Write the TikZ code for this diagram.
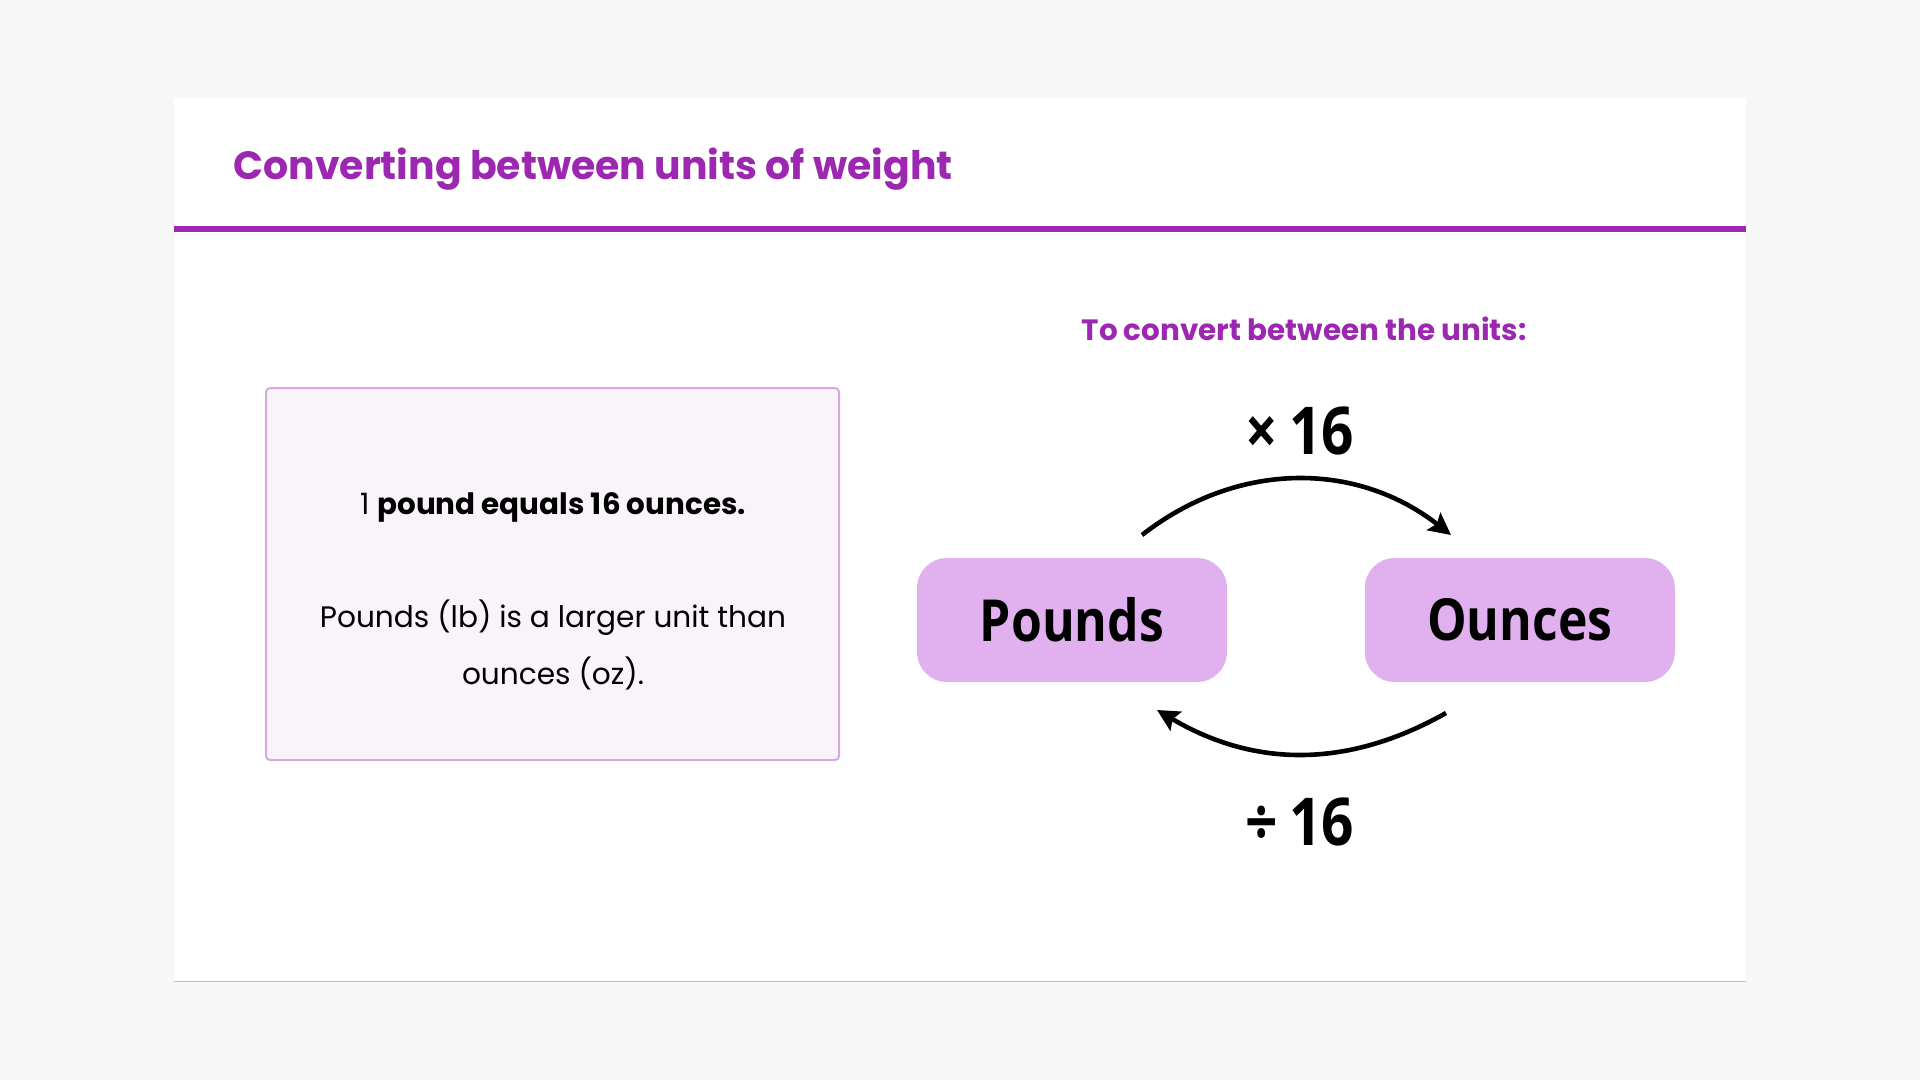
\documentclass[tikz,border=0pt]{standalone}
\usepackage{fontspec}
\setmainfont{Poppins}
\newfontfamily\labelfont[FakeStretch=0.86]{Open Sans}
\usetikzlibrary{arrows.meta,positioning}
\definecolor{titlepurple}{HTML}{9C27B0}
\definecolor{unitfill}{HTML}{E1B0EF}
\definecolor{notefill}{HTML}{F9F3FA}
\definecolor{noteline}{HTML}{D9A8E2}
\definecolor{pagegray}{HTML}{F7F7F7}

\begin{document}
\begin{tikzpicture}[x=0.5pt,y=-0.5pt,
    unit/.style={fill=unitfill,rounded corners=15pt,minimum width=155pt,minimum height=62pt,
      inner sep=0pt,font=\labelfont\bfseries\fontsize{29}{32}\selectfont},
    factor/.style={font=\labelfont\bfseries\fontsize{33}{36}\selectfont},
    turn/.style={line width=2.3pt,-{Stealth[length=11pt,width=11pt,inset=2pt]}}]
      \fill [pagegray] (0,0) rectangle (1920,1080);
      \fill [black!25] (174,100) rectangle (1746,982);
      \fill [white] (174,98) rectangle (1746,981);
      \fill [titlepurple] (174,226) rectangle (1746,232);

      \node [anchor=base west,inner sep=0pt,text=titlepurple,font=\bfseries\fontsize{19.7}{24}\selectfont] (title)
        at (233,180) {Converting between units of weight};

      % left note
      \node [draw=noteline,line width=1pt,fill=notefill,rounded corners=2pt,
        minimum width=286.5pt,minimum height=186pt] (note) at (552.5,574) {};
      \node [anchor=base,font=\fontsize{14.7}{17}\selectfont] (fact) at (553,514)
        {1 \textbf{pound equals 16 ounces.}};
      \node [anchor=base,font=\fontsize{14.8}{17}\selectfont] (size1) at (553,627)
        {Pounds (lb) is a larger unit than};
      \node [anchor=base,font=\fontsize{14.8}{17}\selectfont] (size2) at (553,684)
        {ounces (oz).};

      % right diagram
      \node [text=titlepurple,font=\bfseries\fontsize{14.7}{17}\selectfont] (howto) at (1304,329)
        {To convert between the units:};
      \node [unit] (pounds) at (1072,620) {Pounds};
      \node [unit,right=68.5pt of pounds] (ounces) {Ounces};
      \node [factor] (times) at (1300,431) {×\,16};
      \node [factor] (divide) at (1300,822) {÷\,16};

      \coordinate (timesfrom) at (1142,535);
      \coordinate (timesto) at (1451,535);
      \coordinate (dividefrom) at (1446,713);
      \coordinate (divideto) at (1157,710);
      \draw [turn] (timesfrom) to [bend left=38] (timesto);
      \draw [turn] (dividefrom) to [bend left=30] (divideto);
\end{tikzpicture}
\end{document}
